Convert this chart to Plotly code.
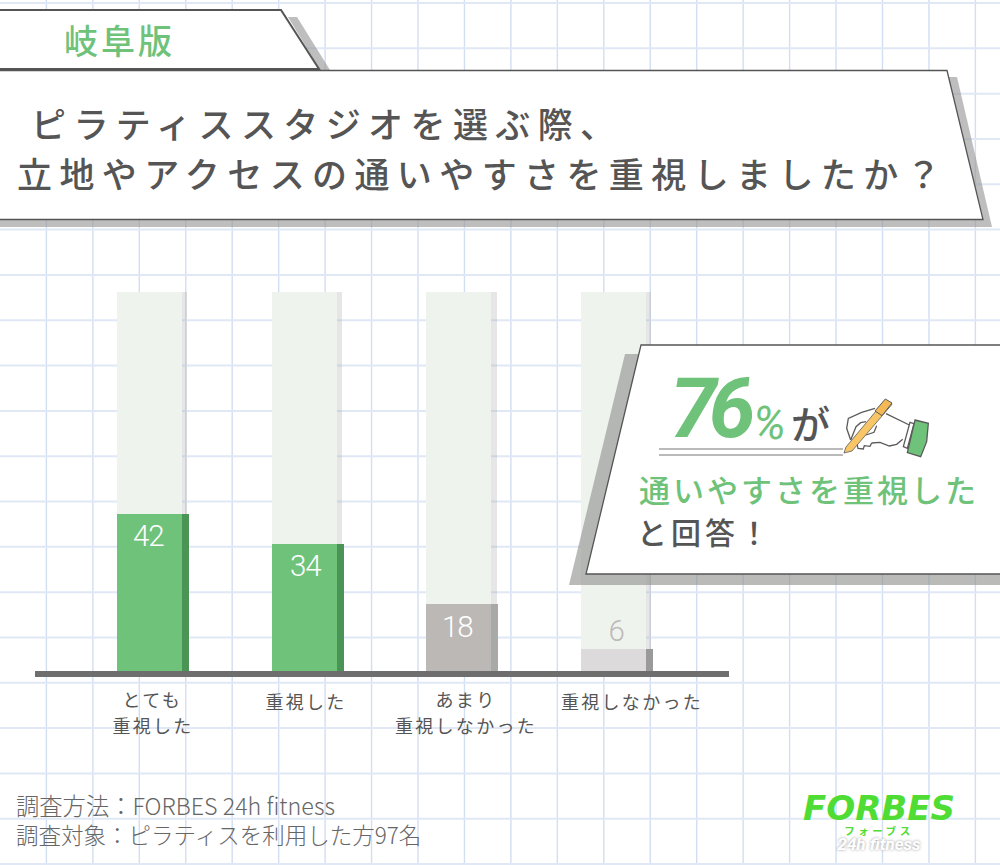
import json
import plotly.graph_objects as go

W, H = 1000, 865
JP = "Noto Sans CJK JP"

# ---- data ----
categories = ["とても重視した", "重視した", "あまり重視しなかった", "重視しなかった"]
values = [42, 34, 18, 6]
scale_total = [101.3, 101.3, 101.3, 101.3]
bar_colors = ["#6fc27a", "#6fc27a", "#bcb8b5", "#dcdadb"]
side_colors = ["#4a9455", "#4a9455", "#a9a9a7", "#9a9a9a"]
label_colors = ["#ffffff", "#ffffff", "#ffffff", "#bdb9b7"]
label_yshift = [-22, -22, -23, 18]
label_xshift = [-1, 1, -1, 3]
tick_lines = [["とても", "重視した"], ["重視した"], ["あまり", "重視しなかった"], ["重視しなかった"]]
tick_xshift = [3.5, 2, 7, 19]
title_lines = ["ピラティススタジオを選ぶ際、", "立地やアクセスの通いやすさを重視しましたか？"]
tab_text = "岐阜版"
footer_lines = ["調査方法：FORBES 24h fitness", "調査対象：ピラティスを利用した方97名"]


def px(x):
    return x / W


def py(y):
    return 1 - y / H


def path(points, close=True):
    d = "M " + " L ".join(f"{px(x):.5f},{py(y):.5f}" for x, y in points)
    return d + (" Z" if close else "")


def poly(points, fill=None, line=None, lw=0, close=True, layer="above"):
    return dict(
        type="path", xref="paper", yref="paper", path=path(points, close), layer=layer,
        fillcolor=fill if fill else "rgba(0,0,0,0)",
        line=dict(color=line if line else "rgba(0,0,0,0)", width=lw),
    )


fig = go.Figure()
bar_w = 65 / 154.67
side_w = 7 / 154.67
shade_w = 5.5 / 154.67

fig.add_trace(go.Bar(x=categories, y=scale_total, width=shade_w, offset=bar_w / 2,
                     marker=dict(color="rgba(165,165,165,0.28)", line_width=0), hoverinfo="skip"))
fig.add_trace(go.Bar(x=categories, y=scale_total, width=bar_w, offset=-bar_w / 2,
                     marker=dict(color="#eef3ee", line_width=0), hoverinfo="skip"))
fig.add_trace(go.Bar(x=categories, y=values, width=side_w, offset=bar_w / 2,
                     marker=dict(color=side_colors, line_width=0), hoverinfo="skip"))
fig.add_trace(go.Bar(x=categories, y=values, width=bar_w, offset=-bar_w / 2,
                     marker=dict(color=bar_colors, line_width=0)))

shapes = []
# paper grid
x = 46.4
while x < W:
    shapes.append(dict(type="line", xref="paper", yref="paper", x0=px(x), x1=px(x), y0=0, y1=1,
                       layer="below", line=dict(color="#d2def2", width=1.4)))
    x += 46.45
y = 3
while y < H:
    shapes.append(dict(type="line", xref="paper", yref="paper", x0=0, x1=1, y0=py(y), y1=py(y),
                       layer="below", line=dict(color="#e0e8f6", width=2)))
    y += 45.32

SHADOW = "rgba(150,150,150,0.62)"
EDGE = "#555555"
# tab
shapes.append(poly([(288, 17), (297, 17), (330, 70), (320, 70)], fill=SHADOW))
shapes.append(poly([(-5, 10), (281, 10), (319, 69), (-5, 69)], fill="#ffffff", line=EDGE, lw=2))
# title box
shapes.append(poly([(948, 77), (957, 77), (992, 227), (-5, 227), (-5, 219), (983, 219)], fill=SHADOW))
shapes.append(poly([(-5, 70.5), (947, 70.5), (983, 219.5), (-5, 219.5)], fill="#ffffff", line=EDGE, lw=1.3))
# callout
shapes.append(poly([(625, 354), (641, 354), (586, 574), (1005, 574), (1005, 585), (569, 585)],
                   fill="rgba(140,142,138,0.6)"))
shapes.append(poly([(641, 345), (1005, 345), (1005, 574), (586, 574)], fill="#ffffff", line=EDGE, lw=1.3))
# double underline
for yy in (449, 455):
    shapes.append(poly([(659, yy), (843, yy)], line="#777777", lw=1.2, close=False))


# hand icon, traced in the crop's coordinates (3x, origin 830,385)
def z(points):
    return [(830 + a / 3, 385 + b / 3) for a, b in points]


INK = "#5a5a5a"
shapes.append(poly(z([(135, 70), (95, 82), (55, 100), (50, 130), (62, 165), (75, 185), (100, 190),
                      (125, 178), (150, 178), (175, 183), (200, 178), (218, 165), (240, 118), (170, 85)]),
                   fill="#ffffff"))
shapes.append(poly(z([(135, 70), (95, 82), (55, 100), (50, 130), (62, 165)]), line=INK, lw=1.3, close=False))
shapes.append(poly(z([(62, 165), (78, 125), (92, 113), (108, 110)]), line=INK, lw=1.3, close=False))
shapes.append(poly(z([(80, 172), (84, 190), (100, 192), (103, 182), (120, 184), (125, 174)]), line=INK, lw=1.3, close=False))
shapes.append(poly(z([(125, 174), (150, 172), (178, 183), (200, 178), (218, 163)]), line=INK, lw=1.3, close=False))
shapes.append(poly(z([(168, 86), (238, 120)]), line=INK, lw=1.3, close=False))
shapes.append(poly(z([(140, 122), (132, 142), (108, 150)]), line=INK, lw=1.3, close=False))
# pen
shapes.append(poly(z([(48, 186), (165, 46), (186, 58), (66, 198), (42, 204)]), fill="#f8c666", line=INK, lw=0.8))
shapes.append(poly(z([(135, 78), (166, 42), (186, 54), (156, 92)]), fill="#f4b955", line=INK, lw=1.0))
# cuff
shapes.append(poly(z([(240, 112), (252, 116), (232, 190), (220, 185)]), fill="#ffffff", line=INK, lw=1.3))
shapes.append(poly(z([(255, 105), (295, 115), (290, 170), (272, 215), (232, 203)]), fill="#6fc27a", line=INK, lw=1.3))

ann = []


def text(t, x, y, size, color, anchor="left", **font):
    ann.append(dict(text=t, x=px(x), y=py(y), xref="paper", yref="paper", showarrow=False,
                    xanchor=anchor, yanchor="middle", align=anchor, borderpad=0,
                    font=dict(family=font.pop("family", JP), size=size, color=color, **font)))


text(tab_text, 63, 40, 34, "#6fc27a", weight=500)
text(title_lines[0], 30, 122, 35, "#555555", weight=500)
text(title_lines[1], 16, 172, 35, "#555555", weight=500)

text("76", 669, 408, 84, "#6fc27a", family="Roboto", weight=700, style="italic")
text("%", 752, 423, 46, "#6fc27a", family="Roboto", style="italic")
text("が", 790, 422, 39, "#555555", weight=500)
text("通いやすさを重視した", 638, 488, 31, "#6fc27a", weight=500)
text("と回答！", 636, 531, 30, "#555555", weight=500)

text(f"<span style='font-size:23.3px'>{footer_lines[0]}</span><br>{footer_lines[1]}",
     15, 819, 22.5, "#666666", weight=300)

logo = ("<span style='font-size:34px;font-family:DejaVu Sans;font-weight:700;font-style:italic'>FORBES</span><br>"
        "<span style='font-size:10.5px;letter-spacing:3.5px;font-weight:700'>フォーブス</span><br>"
        "<span style='font-size:17px;font-family:Roboto;font-weight:700;font-style:italic;fill:#ffffff;"
        "text-shadow:0 0 3px #999999'>24h fitness</span>")
text(logo, 879, 821, 11.5, "#4fdc35", anchor="center")

# value labels and category labels, placed by the axes
for cat, v, c, ys, xs in zip(categories, values, label_colors, label_yshift, label_xshift):
    ann.append(dict(text=str(v), x=cat, y=v, xref="x", yref="y", showarrow=False, xshift=xs, yshift=ys,
                    xanchor="center", yanchor="middle",
                    font=dict(family="Roboto", size=29.5, color=c, weight=300)))
for cat, lines, xs in zip(categories, tick_lines, tick_xshift):
    base = 671 + 28 if len(lines) == 2 else 671 + 30
    for i, ln in enumerate(lines):
        ann.append(dict(text=ln, x=cat, y=0, xref="x", yref="y", showarrow=False, xshift=xs,
                        yshift=-(base - 671 + i * 26), xanchor="center", yanchor="middle",
                        font=dict(family=JP, size=18, color="#555555")))

fig.update_layout(
    width=W, height=H, autosize=False,
    margin=dict(l=0, r=0, t=0, b=0, pad=0),
    paper_bgcolor="#ffffff", plot_bgcolor="rgba(0,0,0,0)",
    barmode="overlay", showlegend=False, bargap=0,
    shapes=shapes, annotations=ann,
    xaxis=dict(domain=[px(35), px(729)], type="category", categoryorder="array", categoryarray=categories,
               range=[-0.7403, 3.747], showgrid=False, showticklabels=False, ticks="",
               showline=True, linecolor="#6e6e6e", linewidth=6, zeroline=False, fixedrange=True),
    yaxis=dict(domain=[py(671), py(292)], range=[0, 101.3], visible=False, fixedrange=True),
)

# letter spacing by font size (plotly has no attribute for it)
spacing = {"34": 3, "35": 7.4, "84": -8, "31": 3, "30": 4, "18": 2.3, "29.5": -1}
post = """
document.body.style.margin='0';
var sp=%s;
document.querySelectorAll('.annotation text').forEach(function(t){
  var s=parseFloat(t.style.fontSize)+'';
  if(sp[s]!==undefined){t.style.letterSpacing=sp[s]+'px';}
});
""" % json.dumps(spacing)

fig.write_html("out.html", post_script=post, config=dict(displayModeBar=False))
